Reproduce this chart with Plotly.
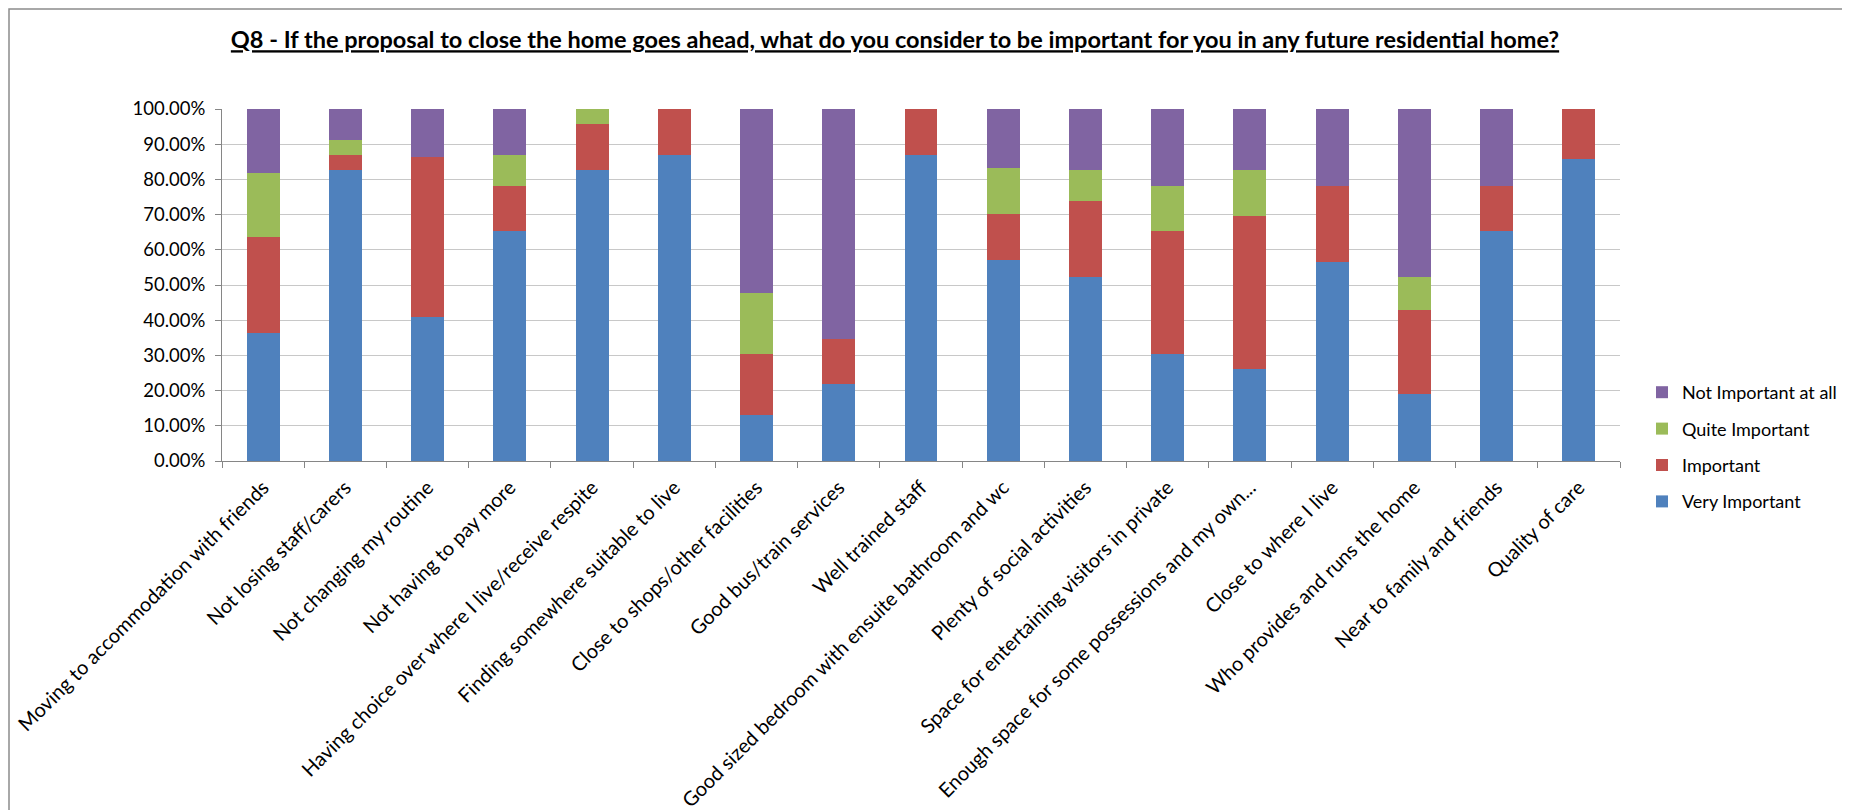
import plotly.graph_objects as go

categories = [
    "Moving to accommodation with friends",
    "Not losing staff/carers",
    "Not changing my routine",
    "Not having to pay more",
    "Having choice over where I live/receive respite",
    "Finding somewhere suitable to live",
    "Close to shops/other facilities",
    "Good bus/train services",
    "Well trained staff",
    "Good sized bedroom with ensuite bathroom and wc",
    "Plenty of social activities",
    "Space for entertaining visitors in private",
    "Enough space for some possessions and my own...",
    "Close to where I live",
    "Who provides and runs the home",
    "Near to family and friends",
    "Quality of care",
]

very_important = [36.36, 82.61, 40.91, 65.22, 82.61, 86.96, 13.04, 21.74, 86.96, 57.14, 52.17, 30.43, 26.09, 56.52, 19.05, 65.22, 85.71]
important      = [27.27, 4.35, 45.45, 13.04, 13.04, 13.04, 17.39, 13.04, 13.04, 13.00, 21.74, 34.78, 43.48, 21.74, 23.81, 13.04, 14.29]
quite_important = [18.18, 4.35, 0.00, 8.70, 4.35, 0.00, 17.39, 0.00, 0.00, 13.00, 8.70, 13.04, 13.04, 0.00, 9.52, 0.00, 0.00]
not_important  = [18.18, 8.70, 13.64, 13.04, 0.00, 0.00, 52.17, 65.22, 0.00, 16.86, 17.39, 21.74, 17.39, 21.74, 47.62, 21.74, 0.00]

series = [
    ("Very Important", very_important, "#4F81BD"),
    ("Important", important, "#C0504D"),
    ("Quite Important", quite_important, "#9BBB59"),
    ("Not Important at all", not_important, "#8064A2"),
]

y_ticks = [0, 10, 20, 30, 40, 50, 60, 70, 80, 90, 100]
y_tick_labels = [f"{v:.2f}%" for v in y_ticks]

FONT = "Lato, Carlito, Calibri, 'Open Sans', sans-serif"

fig = go.Figure()
n = len(series)
for i, (name, vals, color) in enumerate(series):
    fig.add_trace(go.Bar(x=categories, y=vals, name=name, legendgroup=name,
                         legendrank=n - i,
                         marker=dict(color=color, line=dict(width=0))))

W, H = 1850, 810
L, R, T, B = 214, 238, 101, 357
pw = W - L - R
ph = H - T - B

fig.update_layout(
    width=W, height=H,
    barmode="stack",
    bargap=0.6,
    paper_bgcolor="white",
    plot_bgcolor="white",
    margin=dict(l=L, r=R, t=T, b=B, autoexpand=False),
    font=dict(family=FONT, size=18.5, color="#000000"),
    title=dict(
        text="<b>Q8 - If the proposal to close the home goes ahead, what do you consider to be important for you in any future residential home?</b>",
        x=887 / W, xanchor="center", y=1 - 32 / H, yanchor="middle",
        font=dict(family=FONT, size=23.5, color="#000000", lineposition="under"),
    ),
    legend=dict(
        traceorder="grouped",
        x=(1634 - L) / pw, xanchor="left",
        y=1 - (366 - T) / ph, yanchor="top",
        font=dict(family=FONT, size=18),
        itemsizing="constant",
        itemwidth=30,
        tracegroupgap=10,
        bgcolor="rgba(0,0,0,0)",
    ),
    xaxis=dict(
        type="category",
        tickangle=-45,
        tickfont=dict(family=FONT, size=20),
        showline=True, linecolor="#868686", linewidth=1,
        ticks="outside", tickson="boundaries", ticklen=6, tickcolor="#868686",
        showgrid=False,
        ticklabelstandoff=6,
    ),
    yaxis=dict(
        range=[0, 100],
        tickvals=y_ticks, ticktext=y_tick_labels,
        tickfont=dict(family=FONT, size=18.5),
        showline=True, linecolor="#868686", linewidth=1,
        ticks="outside", ticklen=6, tickcolor="#868686",
        showgrid=True, gridcolor="#C8C8C8", gridwidth=1,
        zeroline=False,
        ticklabelstandoff=6,
    ),
    shapes=[
        dict(type="rect", xref="paper", yref="paper",
             x0=(1 - L) / pw, x1=(W - 2 - L) / pw,
             y0=-(H - 2 - T - ph) / ph, y1=1 + (T - 1) / ph,
             line=dict(color="#8C8C8C", width=1.5), layer="below"),
    ],
)

fig.write_html("out.html")
